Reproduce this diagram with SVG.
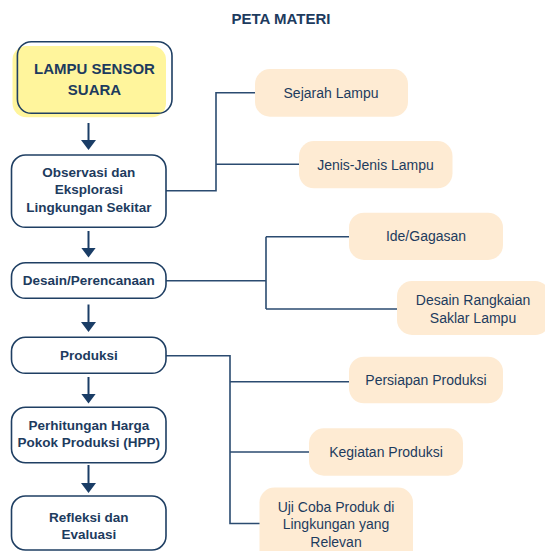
<svg xmlns="http://www.w3.org/2000/svg" width="545" height="551" viewBox="0 0 545 551">
<style>
  text { font-family: "Liberation Sans", Arial, sans-serif; fill: #1d3b5e; text-anchor: middle; }
  .title { font-size: 15px; font-weight: bold; }
  .main { font-size: 15px; font-weight: bold; }
  .step { font-size: 13.5px; font-weight: bold; }
  .sub { font-size: 14px; }
  .box { fill: #ffffff; stroke: #1f3f63; stroke-width: 1.6; }
  .peach { fill: #feebd3; }
  .conn { fill: none; stroke: #2b4b70; stroke-width: 1.6; }
  .arrow { fill: none; stroke: #1a3d66; stroke-width: 2; }
</style>
<defs>
  <marker id="ah" viewBox="0 0 10 15" refX="2" refY="7.5" markerWidth="10" markerHeight="15" markerUnits="userSpaceOnUse" orient="auto">
    <path d="M0,0 L10,7.5 L0,15 z" fill="#1a3d66"/>
  </marker>
</defs>
<rect width="545" height="551" fill="#ffffff"/>
<text class="title" x="281" y="24">PETA MATERI</text>

<g id="connectors">
  <line class="arrow" x1="88.5" y1="123" x2="88.5" y2="142" marker-end="url(#ah)"/>
  <line class="arrow" x1="88.5" y1="231" x2="88.5" y2="249.5" marker-end="url(#ah)"/>
  <line class="arrow" x1="88.5" y1="304.5" x2="88.5" y2="324" marker-end="url(#ah)"/>
  <line class="arrow" x1="88.5" y1="377" x2="88.5" y2="395.5" marker-end="url(#ah)"/>
  <line class="arrow" x1="88.5" y1="465" x2="88.5" y2="485" marker-end="url(#ah)"/>
  <path class="conn" d="M166,190.7 H216 V92.7 H255 M216,164.3 H299"/>
  <path class="conn" d="M166,280.7 H266 M266,236.7 V309 M266,236.7 H349 M266,309 H397"/>
  <path class="conn" d="M166,355.7 H230 V523.5 H260 M230,381.7 H349 M230,452 H309"/>
</g>

<g id="n-lampu">
  <rect x="12.5" y="46" width="153.5" height="71.3" rx="14" fill="#fff59c"/>
  <rect class="box" x="17.4" y="41.7" width="154.6" height="71.6" rx="14" fill="none" style="fill:none"/>
  <text class="main" x="94.5" y="74">LAMPU SENSOR</text>
  <text class="main" x="94.5" y="95">SUARA</text>
</g>

<g id="n-observasi">
  <rect class="box" x="11.5" y="155" width="154.5" height="72.3" rx="14"/>
  <text class="step" x="88.8" y="177.3">Observasi dan</text>
  <text class="step" x="88.8" y="194">Eksplorasi</text>
  <text class="step" x="88.8" y="211.7">Lingkungan Sekitar</text>
</g>

<g id="n-desain">
  <rect class="box" x="11.5" y="262.7" width="154.5" height="35.6" rx="14"/>
  <text class="step" x="88.8" y="284.5">Desain/Perencanaan</text>
</g>

<g id="n-produksi">
  <rect class="box" x="11.5" y="337.3" width="154.5" height="36" rx="14"/>
  <text class="step" x="88.8" y="360">Produksi</text>
</g>

<g id="n-hpp">
  <rect class="box" x="11.5" y="407.3" width="154.5" height="55.4" rx="14"/>
  <text class="step" x="88.8" y="429.5">Perhitungan Harga</text>
  <text class="step" x="88.8" y="447">Pokok Produksi (HPP)</text>
</g>

<g id="n-refleksi">
  <rect class="box" x="11.5" y="496" width="154.5" height="54" rx="14"/>
  <text class="step" x="88.8" y="522">Refleksi dan</text>
  <text class="step" x="88.8" y="538.5">Evaluasi</text>
</g>

<g id="n-sejarah">
  <rect class="peach" x="255" y="69" width="153" height="47.7" rx="15"/>
  <text class="sub" x="331" y="98">Sejarah Lampu</text>
</g>

<g id="n-jenis">
  <rect class="peach" x="299" y="141" width="153.5" height="47.3" rx="15"/>
  <text class="sub" x="375.5" y="169.5">Jenis-Jenis Lampu</text>
</g>

<g id="n-ide">
  <rect class="peach" x="349" y="212.7" width="154" height="47.3" rx="15"/>
  <text class="sub" x="426" y="241">Ide/Gagasan</text>
</g>

<g id="n-rangkaian">
  <rect class="peach" x="397" y="281" width="153" height="54" rx="15"/>
  <text class="sub" x="473" y="304.5">Desain Rangkaian</text>
  <text class="sub" x="473" y="322.5">Saklar Lampu</text>
</g>

<g id="n-persiapan">
  <rect class="peach" x="349" y="356.7" width="154" height="46.6" rx="15"/>
  <text class="sub" x="426" y="385.3">Persiapan Produksi</text>
</g>

<g id="n-kegiatan">
  <rect class="peach" x="309" y="428.3" width="154" height="47.4" rx="15"/>
  <text class="sub" x="386" y="456.5">Kegiatan Produksi</text>
</g>

<g id="n-ujicoba">
  <rect class="peach" x="259.5" y="487.5" width="153.5" height="80" rx="15"/>
  <text class="sub" x="336" y="512">Uji Coba Produk di</text>
  <text class="sub" x="336" y="529.3">Lingkungan yang</text>
  <text class="sub" x="336" y="546.7">Relevan</text>
</g>
</svg>
